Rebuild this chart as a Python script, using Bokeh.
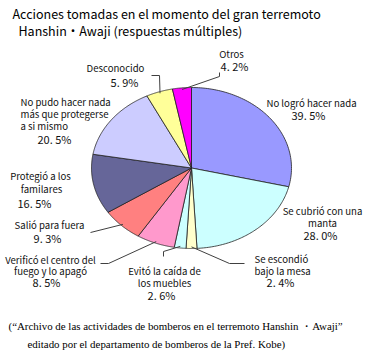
import numpy as np
from bokeh.plotting import figure
from bokeh.models import Range1d
from bokeh.core.properties import value
from bokeh.embed import file_html
from bokeh.resources import INLINE

# ---- data ----
categories = ["No logró hacer nada", "Se cubrió con una manta", "Se escondió bajo la mesa",
              "Evitó la caída de los muebles", "Verificó el centro del fuego y lo apagó",
              "Salió para fuera", "Protegió a los familares",
              "No pudo hacer nada más que protegerse a si mismo", "Desconocido", "Otros"]
percents = [39.5, 28.0, 2.4, 2.6, 8.5, 9.3, 16.5, 20.5, 5.9, 4.2]
label_lines = [["No logró hacer nada"], ["Se cubrió con una", "manta"], ["Se escondió", "bajo la mesa"],
               ["Evitó la caída de", "los muebles"], ["Verificó el centro del", "fuego y lo apagó"],
               ["Salió para fuera"], ["Protegió a  los", "familares"],
               ["No pudo hacer nada", "más que protegerse", "a si mismo"], ["Desconocido"], ["Otros"]]
title_lines = ["Acciones tomadas en el momento del gran terremoto",
               "Hanshin・Awaji  (respuestas múltiples)"]
source_lines = ["(“Archivo de las actividades de bomberos en el  terremoto Hanshin ・Awaji”",
                "editado por el departamento de bomberos de la Pref. Kobe)"]

# ---- style / layout ----
colors = ["#9999FF", "#CCFFFF", "#FFFFCC", "#CCFFFF", "#FF99CC", "#FF8080", "#666699",
          "#CCCCFF", "#FFFF99", "#FF00FF"]
CX, CY, RX, RY = 191, 167.5, 100, 80.5
LBL_FONT = value("Noto Sans CJK JP")
# per-label layout: (x, y of first line, align, line step, pct x, pct y)
label_layout = [
    (311, 102, "center", 12, 308, 114),
    (322, 210, "center", 12, 320, 234),
    (254, 258, "left", 12, 280, 281),
    (164, 270, "center", 12, 161, 294),
    (50, 259, "center", 11.5, 46, 281),
    (49, 224, "center", 12, 47, 237),
    (41, 175, "center", 13, 34, 202),
    (20, 101, "left", 12, 54, 138),
    (115, 67, "center", 12, 124, 81),
    (231, 53, "center", 12, 234, 65),
]
# leader elbows (None = no leader)
leader_elbows = [None, None, [(244, 263), (229, 263)], [(163, 256), (163, 251)],
                 [(100, 263), (108, 263)], [(90, 232)], None, None,
                 [(151, 75), (159, 75)], [(219, 72), (219, 76)]]

p = figure(width=364, height=352, output_backend="svg", toolbar_location=None,
           x_range=Range1d(0, 364), y_range=Range1d(352, 0), min_border=0)
p.axis.visible = False
p.grid.visible = False
p.outline_line_color = None
p.background_fill_color = "white"

total = sum(percents)
cum = np.concatenate([[0], np.cumsum(percents)]) / total * 2 * np.pi
xs, ys = [], []
for i in range(len(percents)):
    th = np.linspace(cum[i], cum[i + 1], 80)
    xs.append([CX] + list(CX + RX * np.sin(th)) + [CX])
    ys.append([CY] + list(CY - RY * np.cos(th)) + [CY])
p.patches(xs, ys, fill_color=colors, line_color="#222222", line_width=0.8)

# leaders
for i, el in enumerate(leader_elbows):
    if el is None:
        continue
    mid = (cum[i] + cum[i + 1]) / 2
    ex, ey = CX + 0.98 * RX * np.sin(mid), CY - 0.98 * RY * np.cos(mid)
    lx = [e[0] for e in el] + [ex]
    ly = [e[1] for e in el] + [ey]
    p.line(lx, ly, line_color="#404040", line_width=1)

# labels
def pct_text(v):
    s = f"{v:.1f}"
    a, b = s.split(".")
    return f"{a}. {b}%"

for i, lines in enumerate(label_lines):
    x0, y0, al, step, px, py = label_layout[i]
    for k, t in enumerate(lines):
        p.text([x0], [y0 + k * step], text=[t], text_font=LBL_FONT, text_font_size="9.6px",
               text_align=al, text_baseline="middle", text_color="#111111")
    p.text([px], [py], text=[pct_text(percents[i])], text_font=LBL_FONT, text_font_size="11px",
           text_align="center", text_baseline="middle", text_color="#111111")

# title
p.text([12, 18], [13, 30], text=title_lines, text_font=LBL_FONT, text_font_size="12.5px",
       text_align="left", text_baseline="middle", text_color="#000000")
# source
p.text([8, 27], [325, 343], text=source_lines, text_font=value("Liberation Serif"),
       text_font_size="10.9px", text_align="left", text_baseline="middle", text_color="#000000")

open("out.html", "w").write(file_html(p, INLINE))
